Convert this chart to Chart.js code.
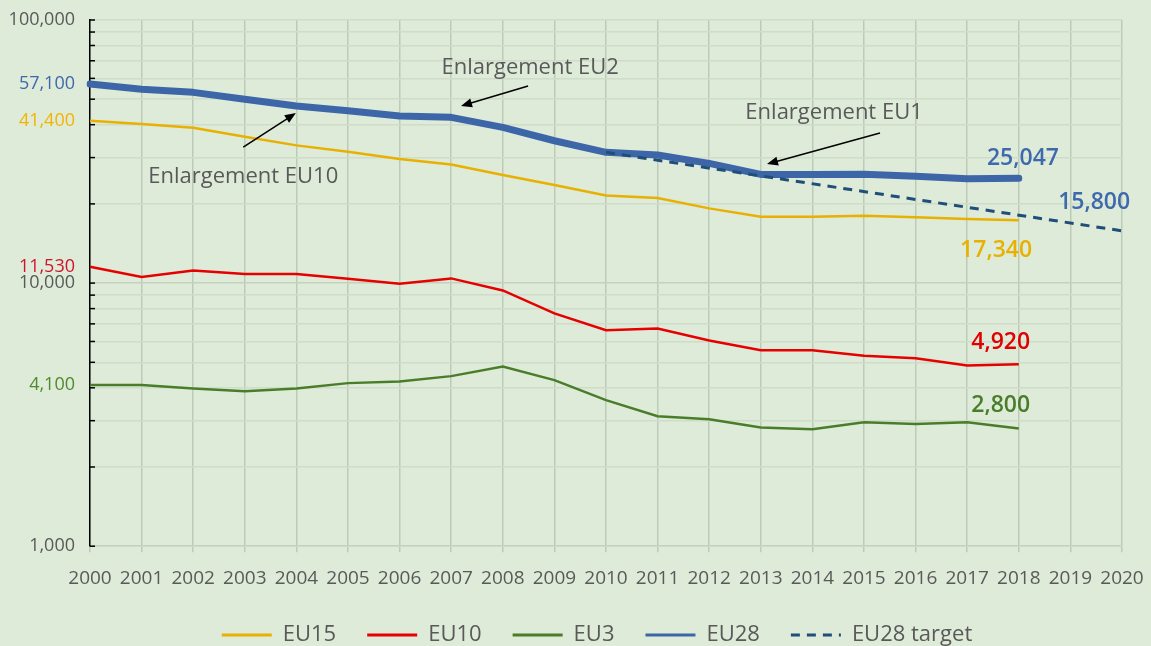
<!DOCTYPE html>
<html lang="en">
<head>
    <meta charset="UTF-8">
    <title>EU emissions chart</title>
    <script src="https://cdn.jsdelivr.net/npm/chart.js"></script>
    <style>
        body { margin: 0; background: #deebd9; }
        #wrap { width: 1151px; height: 646px; }
    </style>
</head>
<body>

<div id="wrap"><canvas id="euChart" width="1151" height="646"></canvas></div>

<script>
    // Data
    const years = ['2000','2001','2002','2003','2004','2005','2006','2007','2008','2009','2010',
                   '2011','2012','2013','2014','2015','2016','2017','2018','2019','2020'];
    const eu15 = [41400, 40240, 38960, 36000, 33380, 31580, 29620, 28250, 25740, 23590, 21540,
                  21050, 19230, 17870, 17870, 18030, 17780, 17510, 17340, null, null];
    const eu10 = [11530, 10540, 11170, 10820, 10820, 10390, 9940, 10420, 9380, 7670, 6625,
                  6725, 6055, 5560, 5560, 5290, 5185, 4865, 4920, null, null];
    const eu3 = [4100, 4100, 3978, 3885, 3978, 4167, 4230, 4430, 4823, 4277, 3590,
                 3121, 3040, 2827, 2786, 2961, 2917, 2961, 2800, null, null];
    const eu28 = [57100, 54520, 53090, 49950, 47100, 45200, 43150, 42660, 39080, 34760, 31400,
                  30670, 28520, 25890, 25890, 25950, 25450, 24920, 25047, null, null];
    const eu28Target = [null, null, null, null, null, null, null, null, null, null, 31400,
                        null, null, null, null, null, null, null, null, null, 15800];

    // coloured start values shown on the left of the value axis
    const sideValues = [57100, 41400, 11530, 4100];
    const sideTexts = ['57,100', '41,400', '11,530', '4,100'];
    const sideColors = ['#3e69ad', '#f2b400', '#d0142a', '#4f8a2c'];

    // value labels near the end of the lines: [year index, value]
    const endTexts = ['25,047', '15,800', '17,340', '4,920', '2,800'];
    const endAnchors = [[18.08, 29880], [19.46, 20320], [17.56, 13350], [17.65, 5967], [17.65, 3436]];
    const endColors = ['#3e69ad', '#3e69ad', '#e8b000', '#e00000', '#4a7d2a'];

    // enlargement notes: text anchor, arrow tail, arrow head ([year index, value])
    const noteTexts = ['Enlargement EU10', 'Enlargement EU2', 'Enlargement EU1'];
    const noteAnchors = [[2.97, 25300], [8.53, 65700], [14.42, 44300]];
    const noteTails = [[2.97, 32890], [8.49, 56100], [15.31, 37180]];
    const noteHeads = [[3.99, 44300], [7.19, 47100], [13.12, 28350]];

    // log grid values 1,000 ... 100,000
    const gridValues = [];
    [1000, 10000].forEach(d => { for (let m = 1; m <= 9; m++) gridValues.push(m * d); });
    gridValues.push(100000);

    const FONT = '"Open Sans", "Noto Sans", sans-serif';
    const GREY = '#595959';

    const sideIndex = v => sideValues.indexOf(v);

    const extras = {
        id: 'extras',
        afterLayout(chart) {
            // legend sits a little right of centre and close under the years
            const lg = chart.legend;
            lg.left += 31; lg.right += 31;
            lg.top -= 12; lg.bottom -= 12;
        },
        beforeDraw(chart) {
            const ctx = chart.ctx;
            ctx.save();
            ctx.fillStyle = '#deebd9';
            ctx.fillRect(0, 0, chart.width, chart.height);
            ctx.restore();
        },
        afterDatasetsDraw(chart) {
            const ctx = chart.ctx;
            const xs = chart.scales.x, ys = chart.scales.y;
            const px = p => [xs.getPixelForValue(p[0]), ys.getPixelForValue(p[1])];
            ctx.save();

            // small tick marks inside the value axis
            ctx.strokeStyle = '#000';
            ctx.lineWidth = 1.5;
            gridValues.forEach(v => {
                const y = ys.getPixelForValue(v);
                ctx.beginPath();
                ctx.moveTo(xs.left, y);
                ctx.lineTo(xs.left + 5, y);
                ctx.stroke();
            });

            // notes with arrows
            ctx.font = '22px ' + FONT;
            ctx.textAlign = 'center';
            ctx.textBaseline = 'middle';
            noteTexts.forEach((t, i) => {
                const [tx, ty] = px(noteAnchors[i]);
                ctx.fillStyle = GREY;
                ctx.fillText(t, tx, ty);
                const [x1, y1] = px(noteTails[i]);
                const [x2, y2] = px(noteHeads[i]);
                const a = Math.atan2(y2 - y1, x2 - x1);
                ctx.strokeStyle = '#000';
                ctx.lineWidth = 1.5;
                ctx.beginPath();
                ctx.moveTo(x1, y1);
                ctx.lineTo(x2 - 6 * Math.cos(a), y2 - 6 * Math.sin(a));
                ctx.stroke();
                ctx.fillStyle = '#000';
                ctx.beginPath();
                ctx.moveTo(x2, y2);
                ctx.lineTo(x2 - 11 * Math.cos(a) + 4.5 * Math.sin(a), y2 - 11 * Math.sin(a) - 4.5 * Math.cos(a));
                ctx.lineTo(x2 - 11 * Math.cos(a) - 4.5 * Math.sin(a), y2 - 11 * Math.sin(a) + 4.5 * Math.cos(a));
                ctx.closePath();
                ctx.fill();
            });

            // end value labels
            ctx.font = '600 23px ' + FONT;
            endTexts.forEach((t, i) => {
                const [tx, ty] = px(endAnchors[i]);
                ctx.fillStyle = endColors[i];
                ctx.fillText(t, tx, ty);
            });
            ctx.restore();
        }
    };

    const ctx = document.getElementById('euChart').getContext('2d');

    new Chart(ctx, {
        type: 'line',
        data: {
            labels: years,
            datasets: [
                { label: 'EU15', data: eu15, borderColor: '#e8b000', backgroundColor: '#e8b000', borderWidth: 2.5, order: 1 },
                { label: 'EU10', data: eu10, borderColor: '#e60000', backgroundColor: '#e60000', borderWidth: 2.5, order: 1 },
                { label: 'EU3', data: eu3, borderColor: '#4a7d2a', backgroundColor: '#4a7d2a', borderWidth: 2.5, order: 1 },
                { label: 'EU28', data: eu28, borderColor: '#3d66a8', backgroundColor: '#3d66a8', borderWidth: 7,
                  borderCapStyle: 'round', borderJoinStyle: 'round', order: 1 },
                { label: 'EU28 target', data: eu28Target, borderColor: '#1f4e79', backgroundColor: '#1f4e79',
                  borderWidth: 3, borderDash: [9, 7], spanGaps: true, order: 0 }
            ]
        },
        options: {
            responsive: false,
            animation: false,
            devicePixelRatio: 1,
            elements: {
                point: { radius: 0, hoverRadius: 0 },
                line: { tension: 0 }
            },
            layout: { padding: { left: 10, right: 29, top: 20, bottom: -22 } },
            scales: {
                x: {
                    type: 'category',
                    offset: false,
                    afterFit: (scale) => { scale.paddingLeft = 0; scale.paddingRight = 0; },
                    grid: { color: '#bccbb7', lineWidth: 1.5, drawTicks: true, tickLength: 6, offset: false },
                    border: { color: '#c4d3bf', width: 1.5 },
                    ticks: { color: GREY, font: { family: FONT, size: 19 }, padding: 15,
                             autoSkip: false, maxRotation: 0 }
                },
                y: {
                    type: 'logarithmic',
                    min: 1000,
                    max: 100000,
                    afterFit: (scale) => { scale.width = 80; scale.paddingTop = 0; scale.paddingBottom = 0; },
                    afterBuildTicks: (scale) => {
                        scale.ticks = gridValues.concat(sideValues).sort((a, b) => a - b).map(v => ({ value: v }));
                    },
                    grid: {
                        drawTicks: false,
                        lineWidth: 1.5,
                        color: (c) => sideIndex(c.tick.value) >= 0 ? 'rgba(0,0,0,0)'
                            : (c.tick.value === 10000 ? '#c3d1be' : '#cfdcca')
                    },
                    border: { color: '#000', width: 1.5 },
                    ticks: {
                        autoSkip: false,
                        padding: 15,
                        font: { family: FONT, size: 18 },
                        color: (c) => sideIndex(c.tick.value) >= 0 ? sideColors[sideIndex(c.tick.value)] : GREY,
                        callback: (v) => {
                            if (sideIndex(v) >= 0) return sideTexts[sideIndex(v)];
                            if (v === 1000 || v === 10000 || v === 100000) return v.toLocaleString('en-US');
                            return '';
                        }
                    }
                }
            },
            plugins: {
                legend: {
                    position: 'bottom',
                    labels: {
                        usePointStyle: true,
                        pointStyle: 'line',
                        pointStyleWidth: 50,
                        padding: 31,
                        color: GREY,
                        font: { family: FONT, size: 22 },
                        sort: (a, b) => a.datasetIndex - b.datasetIndex,
                        generateLabels: (chart) => Chart.defaults.plugins.legend.labels.generateLabels(chart)
                            .map(l => Object.assign(l, {
                                lineWidth: 3,
                                lineCap: 'butt',
                                lineDash: chart.data.datasets[l.datasetIndex].borderDash || []
                            }))
                    }
                },
                tooltip: { enabled: false }
            }
        },
        plugins: [extras]
    });
</script>

</body>
</html>
